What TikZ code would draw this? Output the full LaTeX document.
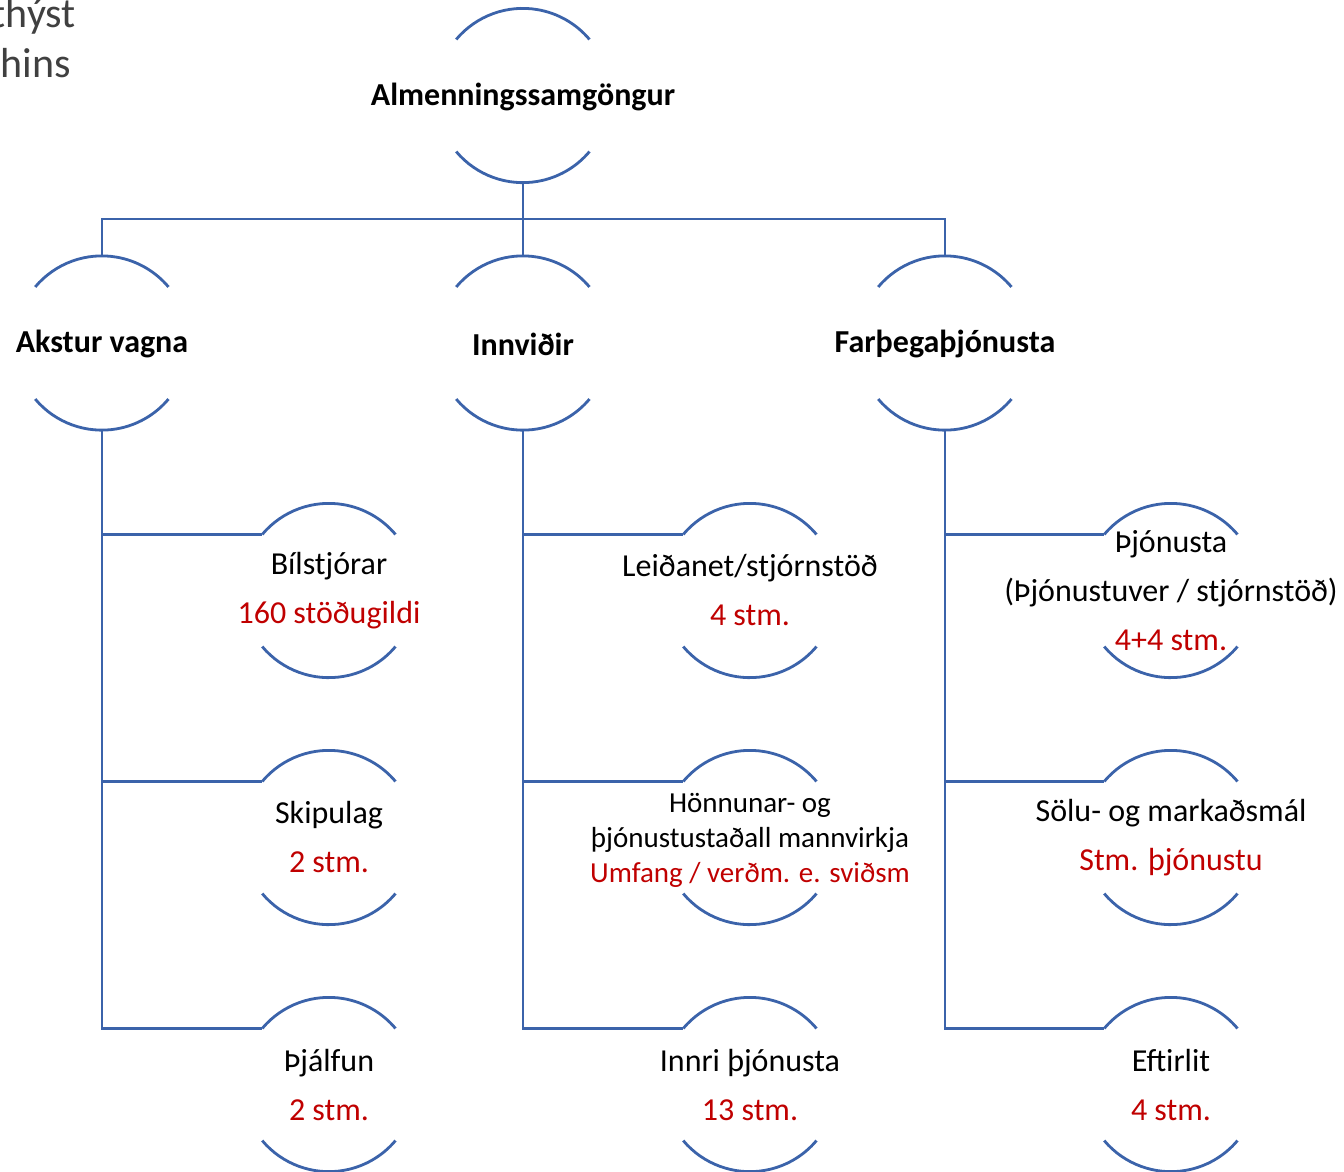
\documentclass[tikz,border=0pt]{standalone}
\usepackage{fontspec}
\setmainfont{Carlito}
\definecolor{lineblue}{HTML}{3B63AA}
\definecolor{redtxt}{HTML}{C00000}
\definecolor{graytxt}{HTML}{404040}
\tikzset{
  bub/.style={circle, minimum size=174pt, inner sep=0pt, draw=none},
  conn/.style={draw=lineblue, line width=2.8pt},
  arcline/.style={draw=lineblue, line width=2.8pt},
  head/.style={align=center, font=\fontsize{32}{36}\selectfont\bfseries},
  txt/.style={align=center, font=\fontsize{32}{49}\selectfont},
  small/.style={align=center, font=\fontsize{29}{35}\selectfont},
  side/.style={font=\fontsize{42}{48}\selectfont, text=graytxt, inner sep=0pt}
}
\newcommand{\arcs}[1]{%
  \draw[arcline] (#1.140) arc[start angle=140, end angle=40, radius=87pt];
  \draw[arcline] (#1.220) arc[start angle=220, end angle=320, radius=87pt];}
\begin{document}
\begin{tikzpicture}[x=1pt,y=1pt]
\useasboundingbox (0,0) rectangle (1344,-1171);
\fill[white] (0,0) rectangle (1344,-1171);
% side text
\node[side, anchor=base east] (s1) at (76,-27) {thýst};
\node[side, anchor=base east] (s2) at (71,-77) {hins};
% nodes
\node[bub] (root) at (523,-95.5) {};
\node[bub] (a) at (102,-343) {};
\node[bub] (b) at (523,-343) {};
\node[bub] (c) at (945,-343) {};
\node[bub] (a1) at (329,-590.5) {};
\node[bub] (a2) at (329,-837.5) {};
\node[bub] (a3) at (329,-1084.5) {};
\node[bub] (b1) at (750,-590.5) {};
\node[bub] (b2) at (750,-837.5) {};
\node[bub] (b3) at (750,-1084.5) {};
\node[bub] (c1) at (1171,-590.5) {};
\node[bub] (c2) at (1171,-837.5) {};
\node[bub] (c3) at (1171,-1084.5) {};
\foreach \n in {root,a,b,c,a1,a2,a3,b1,b2,b3,c1,c2,c3}{\arcs{\n}}
% texts
\node[head] (roott) at ([yshift=-1pt]root) {Almenningssamgöngur};
\node[head] (at) at ([yshift=-1pt]a) {Akstur vagna};
\node[head] (bt) at ([yshift=-1pt]b) {Innviðir};
\node[head] (ct) at ([yshift=-1pt]c) {Farþegaþjónusta};
\node[txt] (a1t) at (a1) {Bílstjórar\\\textcolor{redtxt}{160 stöðugildi}};
\node[txt] (a2t) at (a2) {Skipulag\\\textcolor{redtxt}{2 stm.}};
\node[txt] (a3t) at (a3) {Þjálfun\\\textcolor{redtxt}{2 stm.}};
\node[txt] (b1t) at (b1) {Leiðanet/stjórnstöð\\\textcolor{redtxt}{4 stm.}};
\node[small] (b2t) at ([yshift=-3pt]b2) {Hönnunar- og\\þjónustustaðall mannvirkja\\\textcolor{redtxt}{Umfang / verðm. e. sviðsm}};
\node[txt] (b3t) at (b3) {Innri þjónusta\\\textcolor{redtxt}{13 stm.}};
\node[txt] (c1t) at (c1) {Þjónusta\\(Þjónustuver / stjórnstöð)\\\textcolor{redtxt}{4+4 stm.}};
\node[txt] (c2t) at (c2) {Sölu- og markaðsmál\\\textcolor{redtxt}{Stm. þjónustu}};
\node[txt] (c3t) at (c3) {Eftirlit\\\textcolor{redtxt}{4 stm.}};
% connectors
\coordinate (bus) at (523,-219);
\draw[conn] (root.south) -- (bus);
\draw[conn] (a.north) |- (bus) -| (c.north);
\draw[conn] (bus) -- (b.north);
\draw[conn] (a.south) |- (a3.140);
\draw[conn] (a.south |- a1.140) -- (a1.140);
\draw[conn] (a.south |- a2.140) -- (a2.140);
\draw[conn] (b.south) |- (b3.140);
\draw[conn] (b.south |- b1.140) -- (b1.140);
\draw[conn] (b.south |- b2.140) -- (b2.140);
\draw[conn] (c.south) |- (c3.140);
\draw[conn] (c.south |- c1.140) -- (c1.140);
\draw[conn] (c.south |- c2.140) -- (c2.140);
\end{tikzpicture}
\end{document}
